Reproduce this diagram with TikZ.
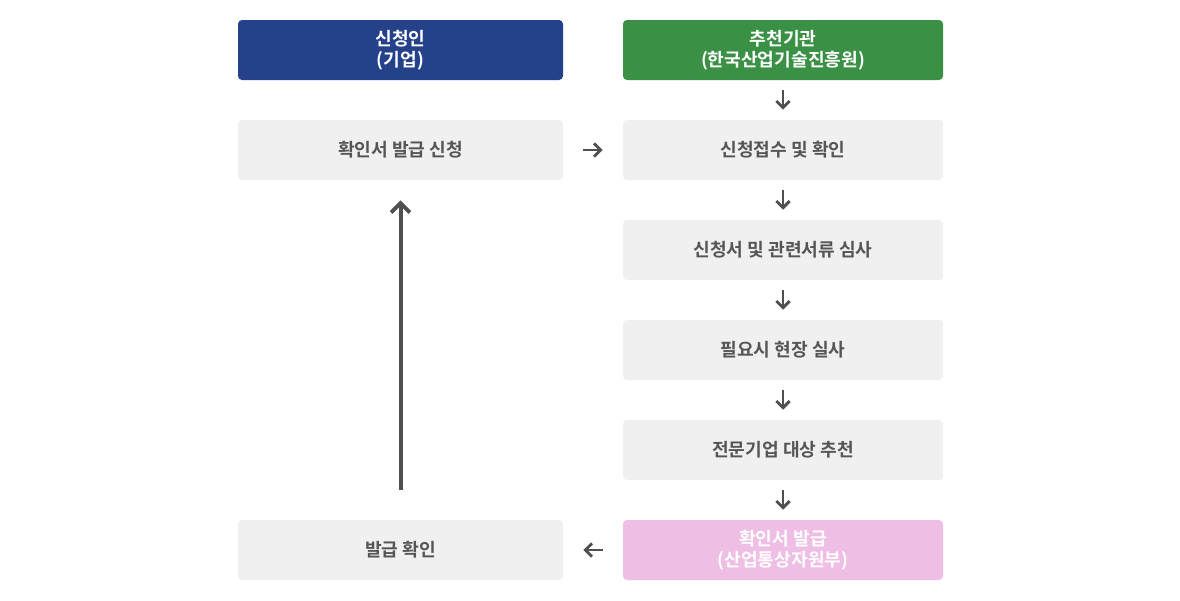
\documentclass[tikz,border=0pt]{standalone}
\usepackage{fontspec}
\setmainfont{Noto Sans CJK KR}[BoldFont={* Bold}]
\usetikzlibrary{arrows.meta}
\definecolor{hblue}{HTML}{24418A}
\definecolor{hgreen}{HTML}{3A9146}
\definecolor{hpink}{HTML}{EEBEE5}
\definecolor{boxgrey}{HTML}{F0F0F0}
\definecolor{txtgrey}{HTML}{555555}
\definecolor{arrgrey}{HTML}{505050}
\tikzset{
  boxbase/.style={rounded corners=3pt, minimum height=45pt, inner sep=0pt, align=center,
    font=\bfseries\fontsize{13.6pt}{15.5pt}\selectfont},
  leftbox/.style={boxbase, minimum width=243.75pt},
  rightbox/.style={boxbase, minimum width=240pt},
  greybox/.style={fill=boxgrey, text=txtgrey},
  headbox/.style={text=white},
  flowarrow/.style={draw=arrgrey, line width=2.2pt, -{Straight Barb[length=5pt, width=10pt, line width=2.2pt]}},
}
\begin{document}
\begin{tikzpicture}[x=0.75pt, y=-0.75pt]
\useasboundingbox (0,0) rectangle (1180,600);
\node[leftbox, headbox, fill=hblue] (h1) at (400.5,50) {신청인\\(기업)};
\node[rightbox, headbox, fill=hgreen] (h2) at (783,50) {추천기관\\(한국산업기술진흥원)};
\node[leftbox, greybox] (a1) at (400.5,150) {확인서 발급 신청};
\node[rightbox, greybox] (b1) at (783,150) {신청접수 및 확인};
\node[rightbox, greybox] (b2) at (783,250) {신청서 및 관련서류 심사};
\node[rightbox, greybox] (b3) at (783,350) {필요시 현장 실사};
\node[rightbox, greybox] (b4) at (783,450) {전문기업 대상 추천};
\node[rightbox, headbox, fill=hpink] (b5) at (783,550) {확인서 발급\\(산업통상자원부)};
\node[leftbox, greybox] (a2) at (400.5,550) {발급 확인};
\foreach \u/\v in {h2/b1, b1/b2, b2/b3, b3/b4, b4/b5}{
  \draw[flowarrow] ([yshift=-7.5pt]\u.south) -- ([yshift=7.5pt]\v.north);
}
\draw[flowarrow] ([xshift=15pt]a1.east) -- ([xshift=-15pt]b1.west);
\draw[flowarrow] ([xshift=-15pt]b5.west) -- ([xshift=15pt]a2.east);
\draw[flowarrow, line width=3pt, -{Straight Barb[length=7pt, width=14pt, line width=3pt]}] ([yshift=22.5pt]a2.north) -- ([yshift=-15pt]a1.south);
\end{tikzpicture}
\end{document}
